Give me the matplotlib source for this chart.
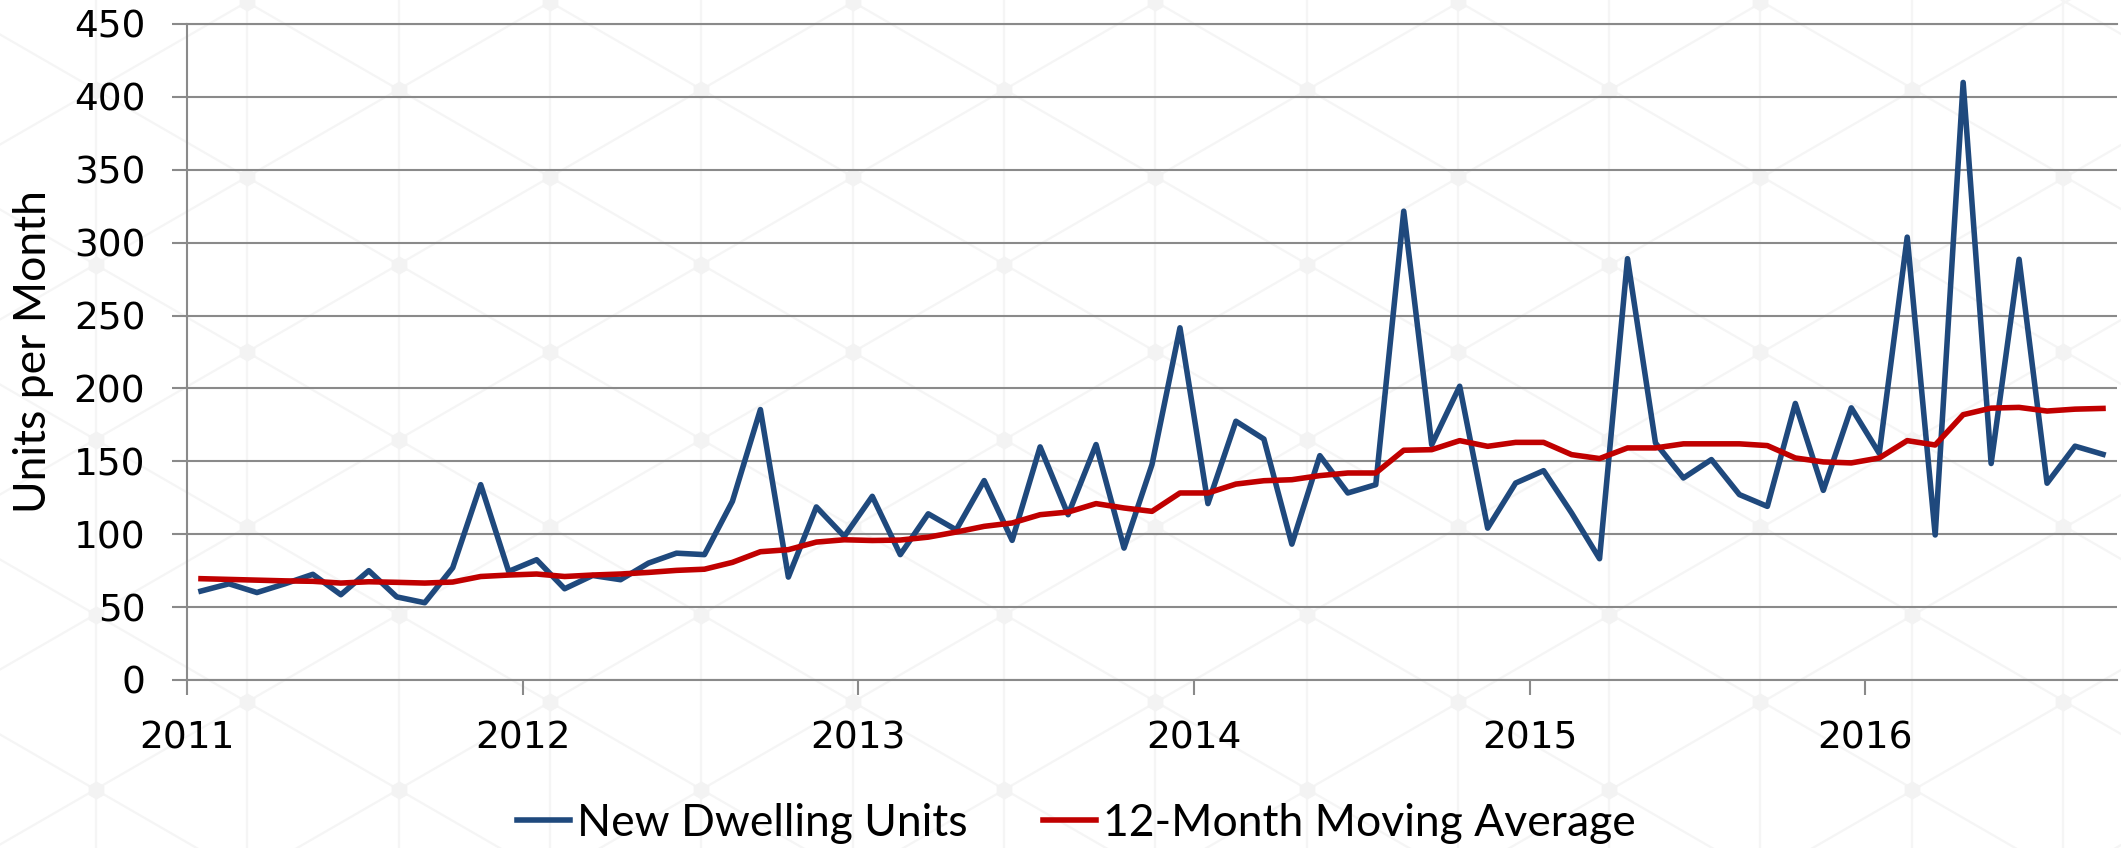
import numpy as np
import matplotlib
matplotlib.use('agg')
import matplotlib.pyplot as plt
from matplotlib.lines import Line2D

# monthly new dwelling units, Jan 2011 - Sep 2016
units = [61, 66, 60, 66, 72.5, 58.5, 75, 57, 53, 77, 134, 74.5,
         82.5, 62.6, 71.7, 68.8, 80.2, 87, 86, 122.6, 185.5, 70.6, 118.7, 98.5,
         126, 86, 114, 103, 136.8, 95.8, 159.9, 113.4, 161.5, 90.5, 147.8, 241.6,
         121, 177.5, 165.3, 93.2, 153.9, 128.3, 134, 321.6, 161.4, 201.5, 104.2, 135.1,
         143.6, 114.6, 83.2, 289, 162.6, 138.6, 151.2, 127.2, 119.1, 189.7, 130.1, 186.7,
         155.5, 303.8, 99.5, 409.9, 148.5, 288.6, 135, 160.4, 154.8]

moving_avg = [69.5, 69, 68.5, 68, 67.7, 66.5, 67.4, 67, 66.5, 67.2, 71, 72,
              72.7, 71, 72, 72.7, 73.8, 75.2, 76, 80.7, 88, 89.4, 94.6, 96.2,
              95.7, 96, 98, 101.5, 105.4, 107.7, 113.4, 115.2, 121, 118, 115.7, 128.3,
              128.3, 134.4, 136.7, 137.4, 140.2, 142, 142, 157.6, 158, 164.2, 160.3, 163,
              163, 154.6, 151.9, 159.2, 159.2, 162, 162, 162, 160.8, 152.3, 149.6, 148.9,
              152.3, 164.2, 161.2, 182, 186.5, 187, 184.5, 185.8, 186.3]

years = ['2011', '2012', '2013', '2014', '2015', '2016']
y_ticks = [0, 50, 100, 150, 200, 250, 300, 350, 400, 450]

BLUE = '#1f497d'
RED = '#c00000'
GRID = '#8a8a8a'
LABEL_FONT = ['Lato', 'DejaVu Sans']
LW = 4.0

W, H = 2121, 848
fig = plt.figure(figsize=(W / 100, H / 100), dpi=100)
fig.patch.set_facecolor('white')

# faint isometric watermark behind everything
bg = fig.add_axes([0, 0, 1, 1], zorder=-10)
bg.axis('off')
step = 151.3
slope = np.tan(np.radians(30))
wm = '#f5f5f5'
for k in range(-5, 16):
    bg.axvline(550 + k * step, color=wm, lw=1.6)
xs = np.array([0, W])
for n in range(-20, 20):
    bg.plot(xs, 352 + 175 * n + slope * (xs - 550), color=wm, lw=1.6)
    bg.plot(xs, 352 + 175 * n - slope * (xs - 550), color=wm, lw=1.6)
nx, ny = [], []
for k in range(-4, 15):
    for j in range(-6, 8):
        nx.append(550 + k * step)
        ny.append(352 + 87.5 * k + 175 * j)
bg.plot(nx, ny, 'h', color='#f3f3f3', ms=12, ls='none')
bg.set_xlim(0, W)
bg.set_ylim(H, 0)

ax = fig.add_axes([187 / W, 1 - 680 / H, 1930 / W, 656 / H])
ax.set_facecolor('none')

x = np.arange(len(units)) + 0.5
ax.plot(x, units, color=BLUE, lw=LW, label='New Dwelling Units', zorder=3)
ax.plot(x, moving_avg, color=RED, lw=LW, label='12-Month Moving Average', zorder=4)

ax.set_xlim(0, len(units))
ax.set_ylim(0, 450)
ax.set_yticks(y_ticks)
ax.set_xticks(np.arange(len(years)) * 12)
ax.set_xticklabels(years)
ax.yaxis.grid(True, color=GRID, lw=1.5)
ax.set_axisbelow(True)

ax.spines['right'].set_visible(False)
for s in ['left', 'bottom', 'top']:
    ax.spines[s].set_color(GRID)
    ax.spines[s].set_linewidth(1.5)

ax.tick_params(axis='both', colors=GRID, length=11, width=1.5, labelsize=27,
               labelcolor='black')
ax.tick_params(axis='y', pad=19)
ax.tick_params(axis='x', pad=18)

fig.text(34 / W, 1 - 352 / H, 'Units per Month', rotation=90, ha='center', va='center',
         fontsize=32, family=LABEL_FONT)

handles = [Line2D([], [], color=BLUE, lw=LW), Line2D([], [], color=RED, lw=LW)]
leg = fig.legend(handles, ['New Dwelling Units', '12-Month Moving Average'],
                 loc='center', bbox_to_anchor=(1076 / W, 1 - 823 / H), ncol=2,
                 frameon=False, handlelength=1.2, handletextpad=0.15, columnspacing=1.7,
                 prop={'family': LABEL_FONT, 'size': 32})

fig.savefig('out.png', dpi=100)
